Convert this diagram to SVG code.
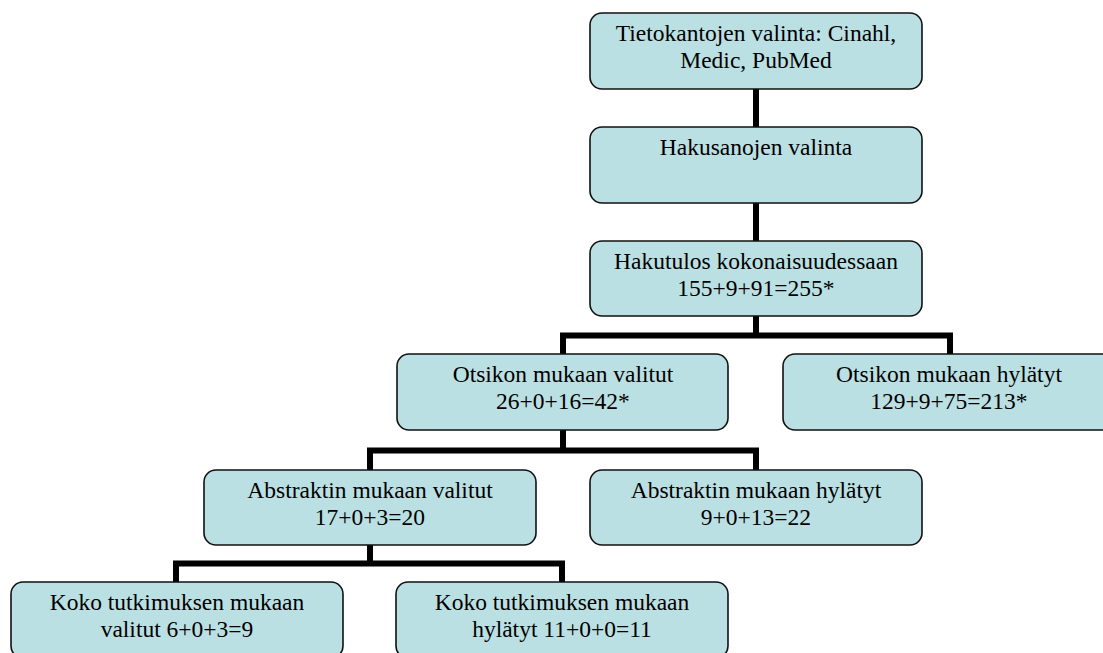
<svg xmlns="http://www.w3.org/2000/svg" width="1103" height="653" viewBox="0 0 1103 653">
<style>
.box{fill:#bbe0e3;stroke:#111;stroke-width:1.6}
.t{font-family:"Liberation Serif","Times New Roman",serif;font-size:23.5px;fill:#000;text-anchor:middle}
.c{fill:none;stroke:#000;stroke-width:6}
</style>
<rect width="1103" height="653" fill="#fff"/>
<g id="connectors">
<path class="c" d="M756 89 V127"/>
<path class="c" d="M756 203 V241"/>
<path class="c" d="M756 316 V335.5"/>
<path class="c" d="M563 354 V335.5 H950 V354"/>
<path class="c" d="M563 430 V450.5"/>
<path class="c" d="M370 470 V450.5 H756 V470"/>
<path class="c" d="M370 545 V563.5"/>
<path class="c" d="M176 582 V563.5 H562 V582"/>
</g>
<g id="n1"><rect class="box" x="590" y="13" width="332" height="76" rx="12"/>
<text class="t" x="756" y="41">Tietokantojen valinta: Cinahl,</text><text class="t" x="756" y="68">Medic, PubMed</text></g>
<g id="n2"><rect class="box" x="590" y="127" width="332" height="76" rx="12"/>
<text class="t" x="756" y="155">Hakusanojen valinta</text></g>
<g id="n3"><rect class="box" x="590" y="241" width="332" height="75" rx="12"/>
<text class="t" x="756" y="269">Hakutulos kokonaisuudessaan</text><text class="t" x="756" y="296">155+9+91=255*</text></g>
<g id="n4"><rect class="box" x="397" y="354" width="331" height="76" rx="12"/>
<text class="t" x="563" y="382">Otsikon mukaan valitut</text><text class="t" x="563" y="409">26+0+16=42*</text></g>
<g id="n5"><rect class="box" x="783" y="354" width="332" height="76" rx="12"/>
<text class="t" x="949" y="382">Otsikon mukaan hylätyt</text><text class="t" x="949" y="409">129+9+75=213*</text></g>
<g id="n6"><rect class="box" x="204" y="470" width="332" height="75" rx="12"/>
<text class="t" x="370" y="498">Abstraktin mukaan valitut</text><text class="t" x="370" y="525">17+0+3=20</text></g>
<g id="n7"><rect class="box" x="590" y="470" width="332" height="75" rx="12"/>
<text class="t" x="756" y="498">Abstraktin mukaan hylätyt</text><text class="t" x="756" y="525">9+0+13=22</text></g>
<g id="n8"><rect class="box" x="11" y="582" width="332" height="76" rx="12"/>
<text class="t" x="177" y="610">Koko tutkimuksen mukaan</text><text class="t" x="177" y="637">valitut 6+0+3=9</text></g>
<g id="n9"><rect class="box" x="396" y="582" width="332" height="76" rx="12"/>
<text class="t" x="562" y="610">Koko tutkimuksen mukaan</text><text class="t" x="562" y="637">hylätyt 11+0+0=11</text></g>
</svg>
